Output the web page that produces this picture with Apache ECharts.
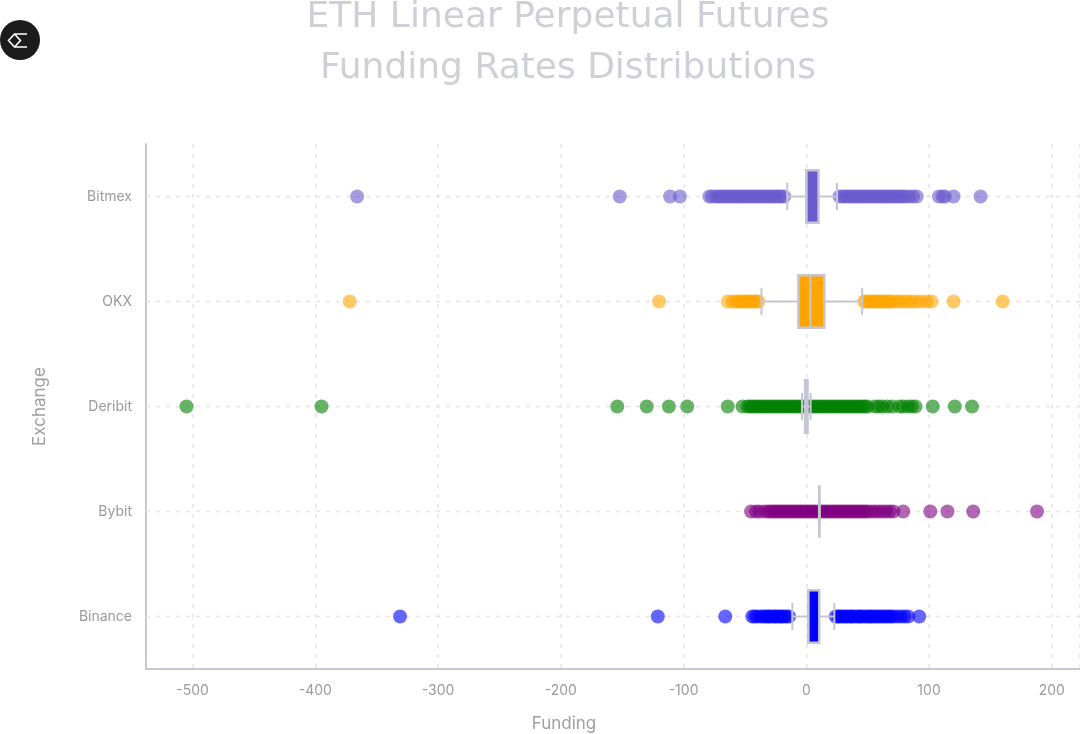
<!DOCTYPE html>
<html><head><meta charset="utf-8">
<script src="https://cdn.jsdelivr.net/npm/echarts@6/dist/echarts.min.js"></script>
<style>html,body{margin:0;padding:0;background:#fff}#c{width:1080px;height:734px}</style>
</head><body><div id="c"></div>
<script>
// Categories (bottom to top)
const exchanges = ['Binance', 'Bybit', 'Deribit', 'OKX', 'Bitmex'];
const xTicks = [-500, -400, -300, -200, -100, 0, 100, 200];

// Box stats: [lower whisker, Q1, median, Q3, upper whisker]
const binanceBox = [-11.4, 1.6, 1.6, 10.6, 22.8];
const bybitBox = [10.6, 10.6, 10.6, 10.6, 10.6];
const deribitBox = [-3.5, -1, 0, 1, 3.5];
const okxBox = [-36.5, -6.5, 3.3, 14.7, 45.5];
const bitmexBox = [-15.5, 0, 0, 10, 25];

// Outlier points (funding values)
const binancePoints = [-331, -121, -66, -44, -42, -40, -37, -35, -33, -31, -30, -28, -26, -25, -23, -21, -20, -18, -16, -14,
  24, 26, 27, 29, 31, 32, 34, 36, 37, 39, 41, 43, 44, 46, 48, 50, 52, 53, 55, 57, 59, 61, 63, 65, 67, 69, 71, 74, 77, 80, 83, 92];
const bybitPoints = [-45, -41, -38, -34, -31, -29, -27, -25, -23, -21, -19, -17, -15, -13, -11, -9, -7, -5, -3, -1, 1, 3, 5, 7, 9,
  12, 14, 16, 18, 20, 22, 24, 26, 28, 30, 32, 34, 36, 38, 40, 42, 44, 46, 48, 50, 53, 56, 59, 62, 65, 68, 71, 79, 101, 115, 136, 188];
const deribitPoints = [-505, -395, -154, -130, -112, -97, -64, -52, -48, -46, -44, -42, -40, -38, -36, -34, -32, -30, -28, -26, -24,
  -22, -20, -18, -16, -14, -12, -10, -8, -6, -4, -2, 2, 4, 6, 8, 10, 12, 14, 16, 18, 20, 22, 24, 26, 28, 30, 32, 34, 36, 38, 40,
  42, 44, 46, 48, 50, 56, 59, 62, 66, 70, 76, 79, 83, 86, 89, 103, 121, 135];
const okxPoints = [-372, -120, -64, -60, -57, -55, -53, -51, -49, -47, -45, -43, -41, -39,
  47, 49, 51, 53, 55, 57, 59, 61, 63, 65, 67, 69, 72, 75, 78, 82, 85, 89, 93, 98, 102, 120, 160];
const bitmexPoints = [-366, -152, -111, -103, -79, -77, -74, -72, -70, -68, -66, -64, -62, -60, -58, -56, -54, -52, -50, -48, -46,
  -44, -42, -40, -38, -36, -34, -32, -30, -28, -26, -24, -22, -20, -18, 27, 29, 31, 33, 35, 37, 39, 41, 43, 45, 47, 49, 51, 53,
  55, 57, 59, 61, 63, 65, 67, 69, 71, 73, 75, 77, 79, 81, 84, 87, 90, 108, 111, 113, 120, 142];

const seriesColors = ['#0000ff', '#800080', '#008000', '#ffa500', '#6a5acd'];
const pointSets = [binancePoints, bybitPoints, deribitPoints, okxPoints, bitmexPoints];
const boxSets = [binanceBox, bybitBox, deribitBox, okxBox, bitmexBox];

const chart = echarts.init(document.getElementById('c'), null, {renderer: 'canvas'});
const gridColor = '#e4e4ea';
const boxLine = '#c6c6d2';

const scatterSeries = exchanges.map((name, i) => ({
  name: name,
  type: 'scatter',
  z: 2,
  symbolSize: 14,
  itemStyle: {color: seriesColors[i], opacity: 0.6},
  data: pointSets[i].map(v => [v, name])
}));

const option = {
  animation: false,
  backgroundColor: '#ffffff',
  grid: {left: 146, right: 0, top: 144, bottom: 65, containLabel: false, outerBoundsMode: 'none'},
  xAxis: {
    type: 'value', min: -538, max: 223, minInterval: 100, maxInterval: 100, splitNumber: 8,
    axisLine: {show: true, onZero: false, lineStyle: {color: '#c8c8d4', width: 2}},
    axisTick: {show: false},
    axisLabel: {color: '#9a9a9a', fontSize: 14, fontFamily: 'Inter', margin: 15, showMinLabel: false, showMaxLabel: false,
      formatter: v => xTicks.includes(v) ? String(v) : ''},
    splitLine: {show: true, lineStyle: {color: gridColor, width: 1.5, type: [4, 6]}},
    name: 'Funding', nameLocation: 'middle', nameGap: 46,
    nameTextStyle: {color: '#a0a0a0', fontSize: 17, fontFamily: 'Inter', padding: [0, 98, 0, 0]}
  },
  yAxis: {
    type: 'category', data: exchanges,
    axisLine: {show: true, onZero: false, lineStyle: {color: '#c8c8d4', width: 2}},
    axisTick: {show: false},
    axisLabel: {color: '#9a9a9a', fontSize: 14, fontFamily: 'Inter', margin: 14},
    splitLine: {show: false},
    name: 'Exchange', nameLocation: 'middle', nameGap: 98, nameRotate: 90,
    nameTextStyle: {color: '#a0a0a0', fontSize: 17, fontFamily: 'Inter'}
  },
  graphic: [
    {type: 'text', x: 568, y: 18, z: 10, style: {text: 'ETH Linear Perpetual Futures', fill: '#cfcfd8', font: '36px "DejaVu Sans"', textAlign: 'center', textVerticalAlign: 'middle'}},
    {type: 'text', x: 568, y: 69, z: 10, style: {text: 'Funding Rates Distributions', fill: '#cfcfd8', font: '36px "DejaVu Sans"', textAlign: 'center', textVerticalAlign: 'middle'}},
    {type: 'circle', shape: {cx: 20, cy: 40, r: 20}, style: {fill: '#1c1c1c'}, z: 10},
    {type: 'polyline', shape: {points: [[27, 34], [14.5, 34], [8.5, 40.5], [14.5, 47], [27, 47]]}, style: {stroke: '#ffffff', lineWidth: 1.6, fill: null}, z: 11},
    {type: 'polyline', shape: {points: [[14.5, 34], [20.5, 40.5], [14.5, 47]]}, style: {stroke: '#ffffff', lineWidth: 1.6, fill: null}, z: 11}
  ],
  series: [
    {
      type: 'custom', name: 'rowlines', z: 1, silent: true,
      data: exchanges.map((e, i) => [i]),
      encode: {y: 0},
      renderItem: function (params, api) {
        const p = api.coord([0, api.value(0)]);
        const cs = params.coordSys;
        return {type: 'line', shape: {x1: cs.x, y1: p[1], x2: cs.x + cs.width, y2: p[1]},
          style: {stroke: gridColor, lineWidth: 1.5, lineDash: [4, 6]}};
      }
    },
    ...scatterSeries,
    {
      type: 'custom', name: 'boxes', z: 3, silent: true,
      data: boxSets.map((b, i) => [i].concat(b)),
      encode: {x: [1, 2, 3, 4, 5], y: 0},
      renderItem: function (params, api) {
        const cat = api.value(0);
        const pts = [1, 2, 3, 4, 5].map(k => api.coord([api.value(k), cat]));
        const x = pts.map(p => p[0]);
        const y = pts[0][1];
        const band = api.size([0, 1])[1];
        const h = band * 0.5;
        const ch = h * 0.26;
        const ls = {stroke: boxLine, lineWidth: 2};
        return {type: 'group', children: [
          {type: 'line', shape: {x1: x[0], y1: y, x2: x[1], y2: y}, style: ls},
          {type: 'line', shape: {x1: x[3], y1: y, x2: x[4], y2: y}, style: ls},
          {type: 'line', shape: {x1: x[0], y1: y - ch, x2: x[0], y2: y + ch}, style: ls},
          {type: 'line', shape: {x1: x[4], y1: y - ch, x2: x[4], y2: y + ch}, style: ls},
          {type: 'rect', shape: {x: x[1], y: y - h / 2, width: x[3] - x[1], height: h},
            style: {fill: seriesColors[cat], stroke: boxLine, lineWidth: 2.5}},
          {type: 'line', shape: {x1: x[2], y1: y - h / 2, x2: x[2], y2: y + h / 2}, style: ls}
        ]};
      }
    }
  ]
};
chart.setOption(option);
</script>
</body></html>
